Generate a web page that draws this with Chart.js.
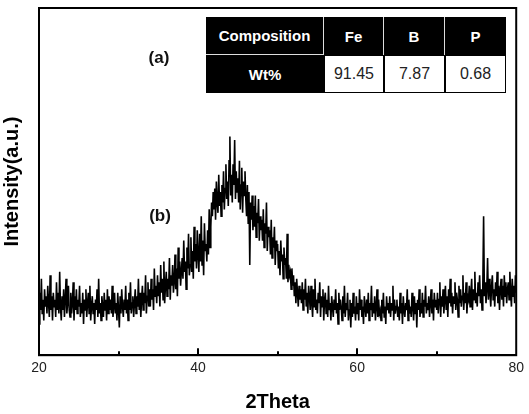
<!DOCTYPE html>
<html>
<head>
<meta charset="utf-8">
<script src="https://cdn.jsdelivr.net/npm/chart.js@4.4.1/dist/chart.umd.min.js"></script>
<style>
  body { margin: 0; background: #fff; }
  #wrap { position: relative; width: 529px; height: 414px; }
  .tag { position: absolute; transform: translate(-50%, -50%); font: bold 17px "Liberation Sans", Arial, sans-serif; color: #111; }
  #comp { position: absolute; left: 206px; top: 17px; width: 300px; height: 76px; background: #000; }
  #comp div { position: absolute; box-sizing: border-box; display: flex; align-items: center; justify-content: center; font-family: "Liberation Sans", Arial, sans-serif; }
  #comp .dark { background: #000; color: #fff; font-weight: bold; font-size: 15px; }
  #comp .light { background: #fff; color: #222; font-size: 16px; }
</style>
</head>
<body>
<div id="wrap">
  <canvas id="xrd" width="529" height="414"></canvas>
  <div class="tag" style="left:159px;top:58px">(a)</div>
  <div class="tag" style="left:160px;top:216px">(b)</div>
  <div id="comp"></div>
</div>
<script>
// scan: 20 to 80 deg, 0.1 deg step
const scanStart = 20;
const scanStep = 0.1;

// intensity, one row per degree
const intensity = [
  9, 18, 13, 22, 12, 16, 10, 19, 14, 17,
  12, 20, 15, 11, 23, 13, 17, 10, 18, 14,
  16, 11, 21, 13, 18, 12, 24, 14, 10, 17,
  13, 19, 11, 16, 22, 12, 15, 20, 13, 11,
  18, 12, 15, 21, 10, 17, 13, 19, 12, 16,
  14, 20, 11, 15, 12, 18, 9, 16, 13, 19,
  11, 15, 18, 12, 20, 10, 14, 17, 12, 15,
  9, 16, 13, 19, 11, 22, 12, 15, 10, 17,
  14, 11, 18, 13, 16, 10, 19, 12, 17, 13,
  16, 12, 20, 11, 14, 18, 12, 15, 10, 18,
  13, 8, 17, 12, 19, 14, 11, 16, 13, 20,
  12, 16, 10, 18, 13, 21, 12, 15, 17, 11,
  15, 19, 12, 17, 14, 22, 13, 18, 11, 16,
  20, 13, 18, 15, 23, 12, 17, 21, 14, 19,
  14, 22, 16, 19, 13, 25, 17, 20, 15, 23,
  17, 21, 14, 26, 18, 22, 16, 27, 15, 20,
  24, 17, 22, 19, 28, 16, 23, 20, 26, 18,
  21, 29, 19, 25, 17, 31, 22, 27, 20, 24,
  28, 22, 33, 24, 27, 19, 31, 25, 35, 23,
  26, 34, 24, 30, 22, 37, 27, 32, 25, 36,
  29, 24, 35, 27, 40, 26, 33, 23, 38, 30,
  32, 27, 36, 29, 42, 31, 37, 44, 40, 47,
  42, 48, 39, 50, 44, 41, 52, 43, 47, 40,
  49, 44, 53, 42, 48, 55, 45, 50, 43, 56,
  63, 46, 52, 44, 55, 49, 62, 45, 53, 47,
  51, 44, 56, 42, 49, 54, 41, 50, 46, 53,
  45, 40, 49, 38, 47, 26, 44, 39, 46, 36,
  43, 37, 46, 34, 41, 38, 45, 33, 40, 36,
  39, 33, 42, 31, 38, 35, 44, 30, 37, 34,
  36, 29, 39, 28, 34, 31, 37, 26, 33, 30,
  32, 25, 30, 23, 33, 27, 29, 22, 31, 26,
  28, 22, 35, 21, 26, 23, 24, 19, 25, 20,
  23, 17, 21, 15, 22, 18, 14, 20, 16, 19,
  15, 21, 13, 19, 16, 22, 14, 18, 12, 20,
  17, 13, 20, 15, 11, 19, 14, 22, 13, 16,
  12, 18, 15, 21, 11, 17, 14, 19, 10, 16,
  18, 12, 16, 11, 20, 13, 15, 10, 17, 14,
  11, 16, 13, 19, 12, 15, 9, 18, 13, 16,
  14, 10, 17, 12, 20, 11, 15, 13, 18, 10,
  13, 16, 8, 15, 11, 18, 12, 14, 10, 17,
  12, 15, 10, 19, 13, 16, 11, 14, 9, 17,
  14, 11, 16, 12, 18, 10, 15, 13, 20, 11,
  15, 12, 17, 10, 14, 19, 11, 16, 12, 13,
  10, 16, 12, 18, 11, 14, 9, 17, 13, 15,
  12, 17, 11, 15, 13, 20, 10, 16, 12, 14,
  16, 11, 14, 10, 18, 12, 15, 9, 17, 13,
  11, 15, 13, 19, 10, 16, 12, 14, 11, 18,
  14, 10, 17, 12, 15, 8, 16, 13, 19, 11,
  15, 12, 18, 11, 16, 14, 20, 12, 15, 13,
  17, 11, 15, 19, 12, 16, 10, 18, 14, 16,
  13, 18, 12, 16, 21, 11, 17, 14, 19, 12,
  16, 20, 13, 17, 11, 19, 15, 22, 14, 18,
  12, 17, 15, 21, 13, 18, 16, 11, 20, 15,
  19, 14, 17, 23, 13, 18, 15, 21, 12, 17,
  16, 20, 14, 18, 22, 13, 19, 16, 24, 15,
  18, 14, 21, 17, 23, 15, 19, 13, 20, 40,
  17, 21, 15, 19, 28, 16, 22, 18, 14, 20,
  23, 16, 19, 14, 21, 17, 24, 15, 20, 13,
  19, 22, 16, 20, 14, 23, 17, 21, 15, 19,
  21, 16, 24, 18, 14, 22, 17, 20, 15, 23,
  18
];

const xTickLabels = [20, 40, 60, 80];
const minorTicks = [30, 50, 70];
const majorTicks = [40, 60];

const compHeader = ["Composition", "Fe", "B", "P"];
const compValues = ["Wt%", "91.45", "7.87", "0.68"];

const points = intensity.map((v, i) => ({ x: +(scanStart + i * scanStep).toFixed(1), y: v }));

// frame + inward ticks on the bottom axis
const boxPlugin = {
  id: "boxPlugin",
  afterDatasetsDraw(chart) {
    const ctx = chart.ctx;
    const a = chart.chartArea;
    const xs = chart.scales.x;
    ctx.save();
    ctx.strokeStyle = "#000";
    ctx.lineWidth = 2;
    ctx.strokeRect(a.left, a.top, a.right - a.left, a.bottom - a.top);
    function tick(v, len) {
      const px = Math.round(xs.getPixelForValue(v));
      ctx.beginPath();
      ctx.moveTo(px, a.bottom);
      ctx.lineTo(px, a.bottom - len);
      ctx.stroke();
    }
    majorTicks.forEach(v => tick(v, 7));
    minorTicks.forEach(v => tick(v, 4));
    ctx.restore();
  }
};

new Chart(document.getElementById("xrd"), {
  type: "line",
  data: {
    datasets: [{
      data: points,
      borderColor: "#000",
      borderWidth: 1.6,
      pointRadius: 0,
      tension: 0,
      fill: false
    }]
  },
  options: {
    responsive: false,
    devicePixelRatio: 1,
    animation: false,
    layout: { padding: { left: 0, right: 11, top: 8, bottom: 0 } },
    plugins: { legend: { display: false }, tooltip: { enabled: false } },
    scales: {
      x: {
        type: "linear",
        min: 20,
        max: 80,
        afterBuildTicks: s => { s.ticks = xTickLabels.map(v => ({ value: v })); },
        ticks: { color: "#222", padding: 5, font: { family: "'Liberation Sans', Arial", size: 14 } },
        grid: { display: false, drawTicks: false },
        border: { display: true, color: "#000", width: 2 },
        title: {
          display: true,
          text: "2Theta",
          color: "#000",
          padding: { top: 8, bottom: 0 },
          font: { family: "'Liberation Sans', Arial", size: 20, weight: "bold" }
        }
      },
      y: {
        min: 0,
        max: 100,
        ticks: { display: false },
        grid: { display: false },
        border: { display: true, color: "#000", width: 2 },
        title: {
          display: true,
          text: "Intensity(a.u.)",
          color: "#000",
          padding: { top: 0, bottom: 7 },
          font: { family: "'Liberation Sans', Arial", size: 20, weight: "bold" }
        }
      }
    }
  },
  plugins: [boxPlugin]
});

// composition table
const comp = document.getElementById("comp");
const colEdges = [0, 118, 178, 239, 300];
const rowEdges = [0, 38, 76];
function cell(text, col, row, cls) {
  const d = document.createElement("div");
  d.className = cls;
  d.textContent = text;
  d.style.left = colEdges[col] + "px";
  d.style.top = rowEdges[row] + "px";
  d.style.width = (colEdges[col + 1] - colEdges[col]) + "px";
  d.style.height = (rowEdges[row + 1] - rowEdges[row]) + "px";
  comp.appendChild(d);
  return d;
}
compHeader.forEach((t, i) => {
  const d = cell(t, i, 0, "dark");
  if (i < compHeader.length - 1) d.style.borderRight = "1.5px solid #ddd";
  if (i === 0) d.style.borderBottom = "1.5px solid #ddd";
});
compValues.forEach((t, i) => {
  const d = cell(t, i, 1, i === 0 ? "dark" : "light");
  if (i > 0) d.style.border = "1px solid #000";
});
</script>
</body>
</html>
